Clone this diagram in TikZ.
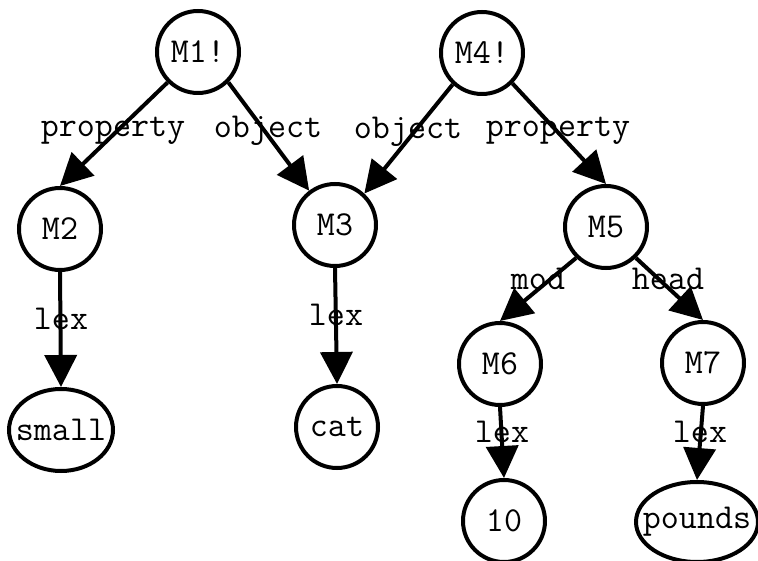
\documentclass[tikz,border=0pt]{standalone}
\usepackage{fontspec}
\usetikzlibrary{arrows.meta,shapes.geometric}
\begin{document}
\begin{tikzpicture}[x=1pt,y=-1pt,
  every node/.style={font=\ttfamily\fontsize{35}{35}\selectfont},
  mnode/.style={draw,circle,line width=4pt,minimum size=82pt,inner sep=0pt},
  wnode/.style={draw,ellipse,line width=4pt,inner sep=0pt},
  arc/.style={line width=4pt,-{Triangle[length=32pt,width=32pt]}},
  lbl/.style={anchor=base,inner sep=0pt}]
\useasboundingbox (0,0) rectangle (758,561);
% molecular nodes
\node[mnode] (m1) at (198,52) {\raisebox{-3pt}{M1!}};
\node[mnode] (m4) at (482,53) {\raisebox{-3pt}{M4!}};
\node[mnode] (m2) at (60,229) {\raisebox{-3pt}{M2}};
\node[mnode] (m3) at (335,225) {\raisebox{-3pt}{M3}};
\node[mnode] (m5) at (606,227) {\raisebox{-3pt}{M5}};
\node[mnode] (m6) at (500,364) {\raisebox{-3pt}{M6}};
\node[mnode] (m7) at (703,363) {\raisebox{-3pt}{M7}};
% base nodes (the words fill their ellipses edge to edge)
\node[wnode,minimum width=104pt,minimum height=82pt] (small) at (61,430) {\makebox[0pt]{small}};
\node[mnode] (cat) at (337,427) {cat};
\node[mnode] (ten) at (504,521) {\raisebox{-3pt}{10}};
\node[wnode,minimum width=122pt,minimum height=80pt] (pounds) at (697,522) {\makebox[0pt]{pounds}};
% arcs
\draw[arc] (m1.225) -- (m2.north);
\draw[arc] (m1.-45) -- (m3.127);
\draw[arc] (m4.227) -- (m3.47);
\draw[arc] (m4.-45) -- (m5.north);
\draw[arc] (m5.226) -- (m6.north);
\draw[arc] (m5.-46) -- (m7.north);
\draw[arc] (m2.south) -- (small.north);
\draw[arc] (m3.south) -- (cat.north);
\draw[arc] (m6.south) -- (ten.north);
\draw[arc] (m7.south) -- (pounds.north);
% arc labels
\node[lbl] (l12) at (113,137) {property};
\node[lbl] (l13) at (268,138) {object};
\node[lbl] (l43) at (408,139) {object};
\node[lbl] (l45) at (558,137) {property};
\node[lbl] (l56) at (538,290) {mod};
\node[lbl] (l57) at (668,290) {head};
\node[lbl] (l2s) at (61,330) {lex};
\node[lbl] (l3c) at (336,326) {lex};
\node[lbl] (l6t) at (502,442) {lex};
\node[lbl] (l7p) at (700,442) {lex};
\end{tikzpicture}
\end{document}
